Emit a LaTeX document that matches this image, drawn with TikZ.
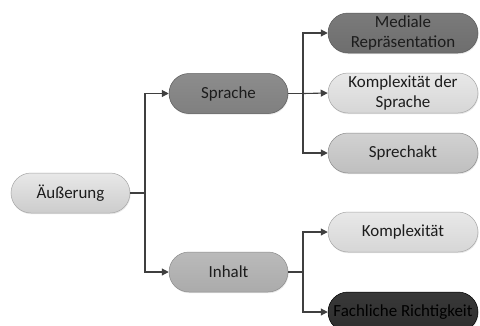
\documentclass[tikz,border=0pt]{standalone}
\usepackage{fontspec}
\setmainfont{Carlito}
\usetikzlibrary{arrows.meta,shadows}
\definecolor{txt}{HTML}{1C1C1C}
\definecolor{wire}{HTML}{3F3F3F}
\definecolor{rimlight}{HTML}{A6A6A6}
\definecolor{rimmid}{HTML}{8C8C8C}
\definecolor{rimdark}{HTML}{5A5A5A}
\tikzset{
  pill/.style={rounded corners=20bp, minimum height=40bp, inner sep=0pt,
    draw=#1, line width=0.5bp, align=center, text=txt,
    font=\fontsize{17}{20}\selectfont,
    drop shadow={opacity=0.18, shadow xshift=0.6bp, shadow yshift=-1.2bp}},
  small/.style={pill=#1, minimum width=119bp},
  wide/.style={pill=#1, minimum width=150bp},
  conn/.style={draw=wire, line width=1.1bp},
  arr/.style={conn, -{Triangle[length=7bp,width=7bp]}}
}
\begin{document}
\begin{tikzpicture}[x=1bp,y=-1bp]
\useasboundingbox[fill=white] (0,0) rectangle (480,325);

% root and first level
\node[small=rimlight, top color=white!91!black, bottom color=white!80!black]
  (root) at (70.5,193) {Äußerung};
\node[small=rimdark, top color=white!55!black, bottom color=white!50!black]
  (spr) at (228.5,93.5) {Sprache};
\node[small=rimmid, top color=white!73!black, bottom color=white!67!black]
  (inh) at (228.5,272) {Inhalt};

% second level under "Sprache"
\node[wide=rimdark, top color=white!48!black, bottom color=white!43!black]
  (med) at (403,33) {Mediale\\Repräsentation};
\node[wide=rimlight, top color=white!91!black, bottom color=white!84!black]
  (kds) at (403,93) {Komplexität der\\Sprache};
\node[wide=rimmid, top color=white!82!black, bottom color=white!75!black]
  (spa) at (403,153) {Sprechakt};

% second level under "Inhalt"
\node[wide=rimlight, top color=white!91!black, bottom color=white!84!black]
  (kom) at (403,232) {Komplexität};
\node[wide=black, top color=white!22!black, bottom color=white!18!black, text=black]
  (fri) at (403,312) {Fachliche Richtigkeit};

% branch points
\coordinate (b1) at (145,193);
\coordinate (b2) at (303,93.5);
\coordinate (b3) at (303,272);

% connectors
\draw[conn] (root.east) -- (b1);
\draw[arr] (b1) |- (spr.west);
\draw[arr] (b1) |- (inh.west);

\draw[conn] (spr.east) -- (b2);
\draw[arr] (b2) |- (med.west);
\draw[arr] (b2) -- (kds.west);
\draw[arr] (b2) |- (spa.west);

\draw[conn] (inh.east) -- (b3);
\draw[arr] (b3) |- (kom.west);
\draw[arr] (b3) |- (fri.west);
\end{tikzpicture}
\end{document}
